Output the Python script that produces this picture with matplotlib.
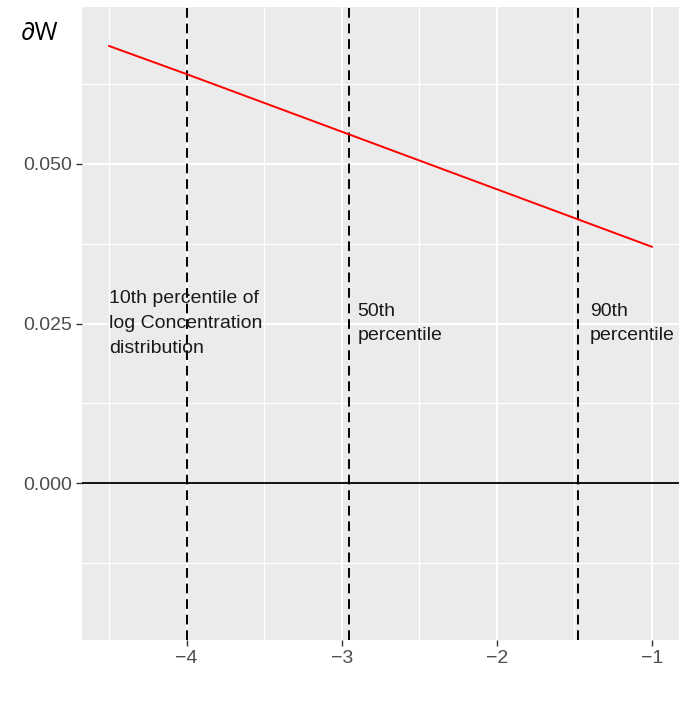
import matplotlib
matplotlib.use("Agg")
import matplotlib.pyplot as plt
import numpy as np

# Data
line_x = [-4.5, -4.0, -3.0, -2.0, -1.0]
line_y = [0.0684, 0.0640, 0.0550, 0.0460, 0.0370]
percentile_x = [-4.0, -2.955, -1.477]
label_x = [-4.5, -2.9, -1.4]
label_y = [0.025, 0.025, 0.025]
labels = ["10th percentile of\nlog Concentration\ndistribution",
          "50th\npercentile", "90th\npercentile"]
y_limits = [-0.02, 0.07]
y_ticks = [0.0, 0.025, 0.05]
y_ticklabels = ["0.000", "0.025", "0.050"]
x_ticks = [-4, -3, -2, -1]
x_ticklabels = ["\u22124", "\u22123", "\u22122", "\u22121"]

plt.rcParams['font.family'] = ['Liberation Sans', 'DejaVu Sans']

fig = plt.figure(figsize=(6.81, 7.03), dpi=100)
ax = fig.add_axes([82/681, 1-640/703, (679-82)/681, (640-7)/703])
ax.set_facecolor('#EBEBEB')
for s in ax.spines.values():
    s.set_visible(False)

xr = max(line_x) - min(line_x)
ax.set_xlim(min(line_x) - 0.05*xr, max(line_x) + 0.05*xr)
yr = y_limits[1] - y_limits[0]
ax.set_ylim(y_limits[0] - 0.05*yr, y_limits[1] + 0.05*yr)

ax.set_xticks(x_ticks)
ax.set_xticklabels(x_ticklabels)
ax.set_yticks(y_ticks)
ax.set_yticklabels(y_ticklabels)
ax.set_xticks([-4.5, -3.5, -2.5, -1.5], minor=True)
ax.set_yticks([-0.0125, 0.0125, 0.0375, 0.0625], minor=True)

ax.grid(True, which='major', color='white', linewidth=1.4)
ax.grid(True, which='minor', color='white', linewidth=0.9)
ax.set_axisbelow(True)
ax.tick_params(which='major', length=4, width=1.0, color='#333333',
               labelcolor='#4D4D4D', labelsize=14, pad=3)
ax.tick_params(which='minor', length=0)

ax.axhline(0, color='black', linewidth=1.3, zorder=2)
for px in percentile_x:
    ax.axvline(px, color='black', linewidth=1.4, linestyle=(0, (5, 3)), zorder=3)

ax.plot(line_x, line_y, color='red', linewidth=1.4, zorder=4)

for tx, ty, t in zip(label_x, label_y, labels):
    ax.text(tx, ty, t, ha='left', va='center', fontsize=14, color='#1a1a1a',
            linespacing=1.6, zorder=5)

fig.text(21/681, 1-33/703, "\u2202W", fontsize=18, family=['Open Sans', 'DejaVu Sans'],
         ha='left', va='center', color='black')

fig.savefig("out.png", dpi=100)
